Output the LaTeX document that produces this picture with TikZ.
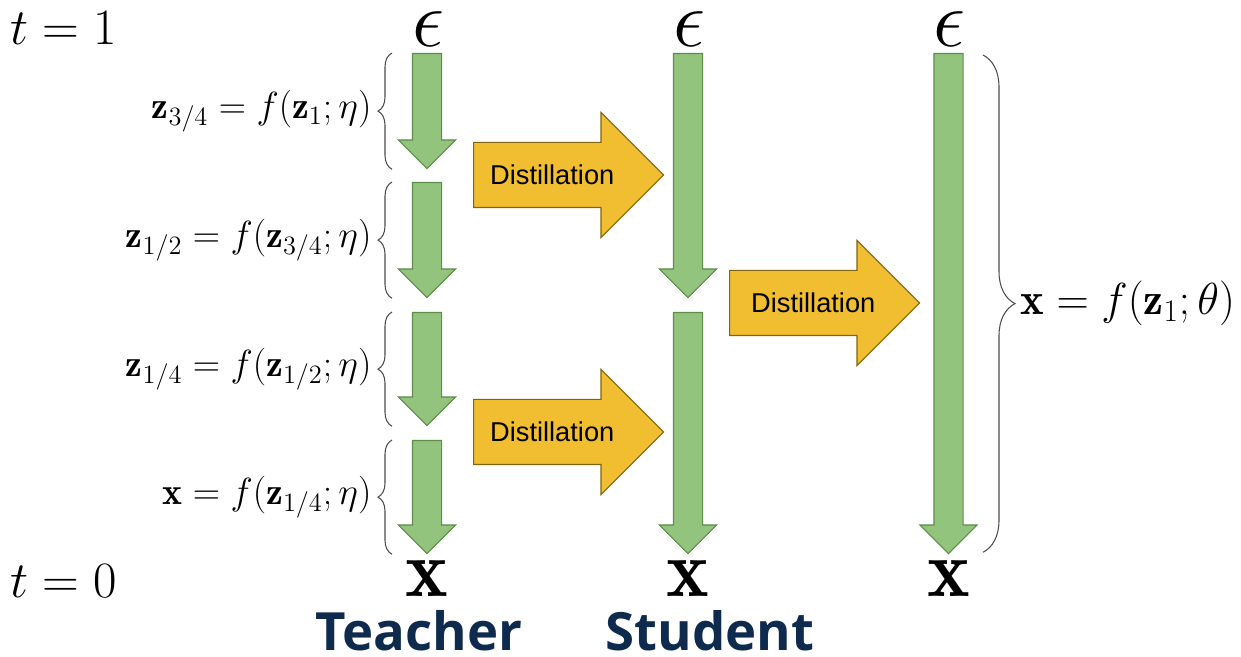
\RequirePackage{fix-cm}
\documentclass[tikz,border=0pt]{standalone}
\usepackage{amsmath,amssymb}
\usepackage{fontspec}
\newfontfamily\headfont{Open Sans}
\newfontfamily\boxfont{Liberation Sans}
\usetikzlibrary{shapes.arrows,decorations.pathreplacing,positioning}
\definecolor{stepgreen}{HTML}{93C47D}
\definecolor{stepgreenline}{HTML}{5E8C4A}
\definecolor{distorange}{HTML}{F1BE32}
\definecolor{distorangeline}{HTML}{7F6412}
\definecolor{headnavy}{HTML}{0E2A4D}
\tikzset{
  steparrow/.style={
    single arrow,
    draw=stepgreenline,
    fill=stepgreen,
    line width=0.6pt,
    rotate=-90,
    anchor=tail,
    inner xsep=0pt,
    inner ysep=0.28cm,
    single arrow head extend=0.28cm,
    single arrow tip angle=90
  },
  distarrow/.style={
    single arrow,
    draw=distorangeline,
    fill=distorange,
    line width=0.6pt,
    anchor=tail,
    inner xsep=1pt,
    inner ysep=0.44cm,
    text height=0.4cm,
    text depth=0cm,
    minimum height=3.8cm,
    single arrow head extend=0.6cm,
    single arrow tip angle=90,
    font=\boxfont\fontsize{15.5}{18}\selectfont
  },
  stepbrace/.style={
    decorate,
    decoration={brace,amplitude=0.28cm},
    draw=black!70,
    line width=0.6pt
  },
  bigbrace/.style={
    decorate,
    decoration={brace,amplitude=0.64cm},
    draw=black!70,
    line width=0.6pt
  },
  steplabel/.style={font=\fontsize{21.5}{24}\selectfont, inner sep=0pt},
  biglabel/.style={font=\fontsize{25.5}{28}\selectfont, inner sep=0pt, anchor=west},
  timelabel/.style={font=\fontsize{29}{32}\selectfont, inner sep=0pt, anchor=west},
  endlabel/.style={font=\fontsize{46}{48}\selectfont, inner sep=0pt},
  rolelabel/.style={font=\headfont\bfseries\fontsize{30}{34}\selectfont, text=headnavy, inner sep=0pt}
}
\begin{document}
\begin{tikzpicture}
  \useasboundingbox (0,0) rectangle (24.82,13.14);
  % time axis
  \node[timelabel] (tone) at (0.2,12.57) {$t=1$};
  \node[timelabel] (tzero) at (0.2,1.52) {$t=0$};
  % end points
  \node[endlabel] (epsT) at (8.56,12.55) {$\epsilon$};
  \node[endlabel] (epsS) at (13.78,12.55) {$\epsilon$};
  \node[endlabel] (epsF) at (18.99,12.55) {$\epsilon$};
  \node[endlabel] (xT) at (8.54,1.57) {$\mathbf{x}$};
  \node[endlabel] (xS) at (13.76,1.57) {$\mathbf{x}$};
  \node[endlabel] (xF) at (18.97,1.57) {$\mathbf{x}$};
  % teacher steps
  \node[steparrow, minimum height=2.30cm] (ta) at (8.54,12.08) {};
  \node[steparrow, minimum height=2.30cm] (tb) at (8.54,9.50) {};
  \node[steparrow, minimum height=2.26cm] (tc) at (8.54,6.90) {};
  \node[steparrow, minimum height=2.26cm] (td) at (8.54,4.34) {};
  % student steps
  \node[steparrow, minimum height=4.88cm] (sa) at (13.76,12.08) {};
  \node[steparrow, minimum height=4.82cm] (sb) at (13.76,6.90) {};
  % final single step
  \node[steparrow, minimum height=10.0cm] (fa) at (18.97,12.08) {};
  % distillation
  \node[distarrow] (dista) at (9.46,9.64) {Distillation};
  \node[distarrow] (distb) at (9.46,4.50) {Distillation};
  \node[distarrow] (distc) at (14.58,7.08) {\hspace{2mm}Distillation};
  % braces for the teacher steps
  \draw[stepbrace] ([xshift=-7mm]ta.tip) -- ([xshift=-7mm]ta.tail)
    node[steplabel, midway, left=0.4cm] {$\mathbf{z}_{3/4}=f(\mathbf{z}_1;\eta)$};
  \draw[stepbrace] ([xshift=-7mm]tb.tip) -- ([xshift=-7mm]tb.tail)
    node[steplabel, midway, left=0.4cm] {$\mathbf{z}_{1/2}=f(\mathbf{z}_{3/4};\eta)$};
  \draw[stepbrace] ([xshift=-7mm]tc.tip) -- ([xshift=-7mm]tc.tail)
    node[steplabel, midway, left=0.4cm] {$\mathbf{z}_{1/4}=f(\mathbf{z}_{1/2};\eta)$};
  \draw[stepbrace] ([xshift=-7mm]td.tip) -- ([xshift=-7mm]td.tail)
    node[steplabel, midway, left=0.4cm] {$\mathbf{x}=f(\mathbf{z}_{1/4};\eta)$};
  % brace for the single step
  \draw[bigbrace] ([xshift=6.9mm,yshift=-0.4mm]fa.tail) -- ([xshift=6.9mm,yshift=0.4mm]fa.tip)
    node[biglabel, midway, right=0.74cm] {$\mathbf{x}=f(\mathbf{z}_1;\theta)$};
  % roles
  \node[rolelabel] (teacher) at (8.38,0.52) {Teacher};
  \node[rolelabel] (student) at (14.2,0.52) {Student};
\end{tikzpicture}
\end{document}
